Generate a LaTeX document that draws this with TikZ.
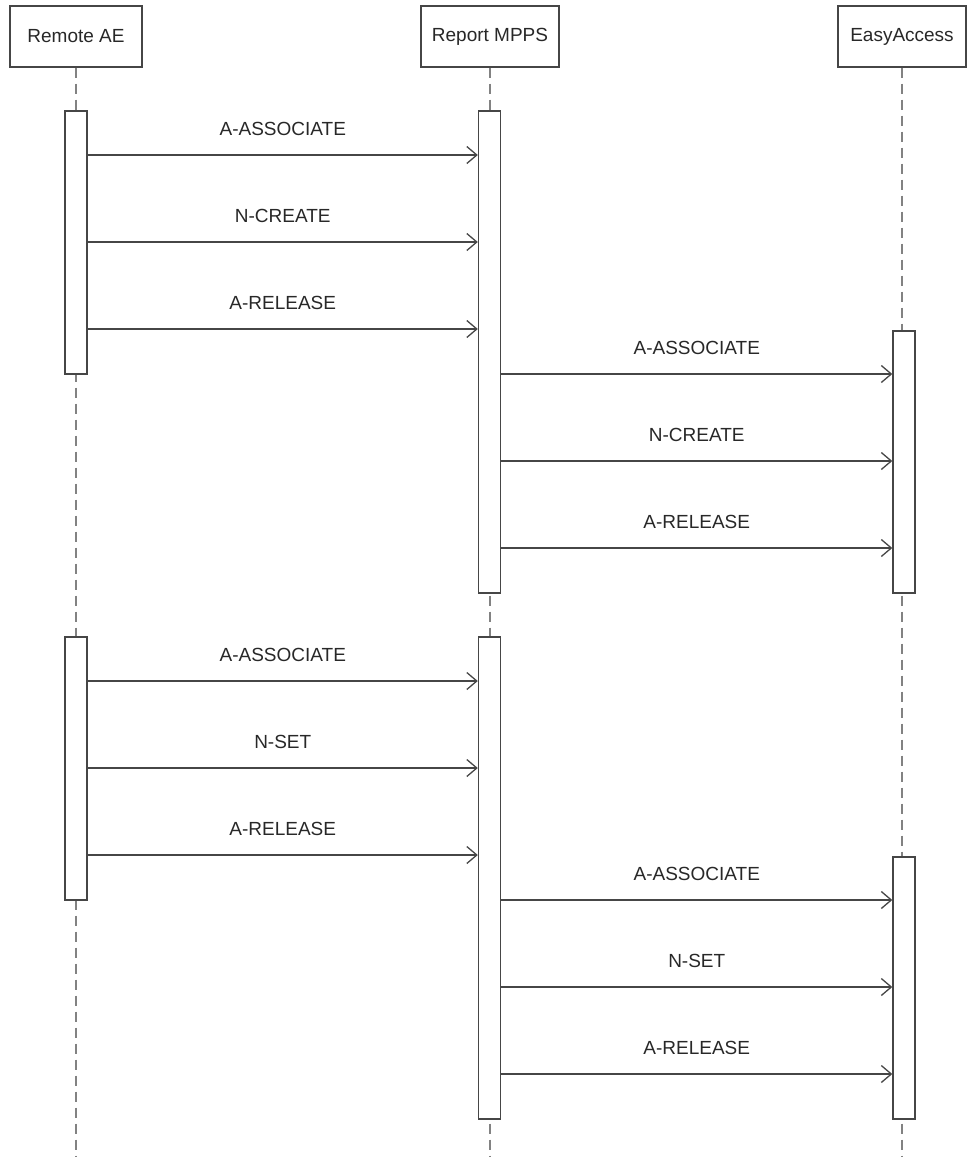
\documentclass[tikz,border=0pt]{standalone}
\usepackage{fontspec}
\setmainfont{Liberation Sans}
\usetikzlibrary{arrows.meta}
\definecolor{edgegray}{RGB}{70,70,70}
\definecolor{lifegray}{RGB}{130,130,130}
\definecolor{textgray}{RGB}{40,40,40}
\tikzset{
  head/.style={rectangle, draw=edgegray, line width=1.4pt, fill=white, text=textgray, font=\fontsize{19}{23}\selectfont, minimum height=61pt},
  actbar/.style={rectangle, draw=edgegray, line width=1.4pt, fill=white, minimum width=22pt, inner sep=0pt},
  life/.style={draw=lifegray, line width=1.6pt, dash pattern=on 10pt off 6pt},
  msg/.style={draw=edgegray, line width=1.3pt, -{Straight Barb[length=10pt, width=17pt, line width=1.3pt]}},
  lbl/.style={midway, above=19pt, inner sep=0pt, text=textgray, font=\fontsize{19}{23}\selectfont}
}
\begin{document}
\begin{tikzpicture}[x=1pt, y=-1pt]
  \useasboundingbox (0,0) rectangle (967,1157);

  % lifeline heads
  \node[head, minimum width=132pt] (remote) at (76,36.5) {Remote AE};
  \node[head, minimum width=138pt] (mpps) at (490,36.5) {Report MPPS};
  \node[head, minimum width=128pt] (easy) at (902,36.5) {EasyAccess};

  \draw[life] (remote) -- (remote |- 0,1157);
  \draw[life] (mpps) -- (mpps |- 0,1157);
  \draw[life] (easy) -- (easy |- 0,1157);

  % activations
  \node[actbar, minimum height=263pt] (ra1) at (76,242.5) {};
  \node[actbar, minimum height=482pt] (mp1) at (489.5,352) {};
  \node[actbar, minimum height=262pt] (ea1) at (904,462) {};
  \node[actbar, minimum height=263pt] (ra2) at (76,768.5) {};
  \node[actbar, minimum height=482pt] (mp2) at (489.5,878) {};
  \node[actbar, minimum height=262pt] (ea2) at (904,988) {};

  % first exchange
  \draw[msg] (ra1.east |- 0,155) -- node[lbl] {A-ASSOCIATE} (mp1.west |- 0,155);
  \draw[msg] (ra1.east |- 0,242) -- node[lbl] {N-CREATE} (mp1.west |- 0,242);
  \draw[msg] (ra1.east |- 0,329) -- node[lbl] {A-RELEASE} (mp1.west |- 0,329);
  \draw[msg] (mp1.east |- 0,374) -- node[lbl] {A-ASSOCIATE} (ea1.west |- 0,374);
  \draw[msg] (mp1.east |- 0,461) -- node[lbl] {N-CREATE} (ea1.west |- 0,461);
  \draw[msg] (mp1.east |- 0,548) -- node[lbl] {A-RELEASE} (ea1.west |- 0,548);

  % second exchange
  \draw[msg] (ra2.east |- 0,681) -- node[lbl] {A-ASSOCIATE} (mp2.west |- 0,681);
  \draw[msg] (ra2.east |- 0,768) -- node[lbl] {N-SET} (mp2.west |- 0,768);
  \draw[msg] (ra2.east |- 0,855) -- node[lbl] {A-RELEASE} (mp2.west |- 0,855);
  \draw[msg] (mp2.east |- 0,900) -- node[lbl] {A-ASSOCIATE} (ea2.west |- 0,900);
  \draw[msg] (mp2.east |- 0,987) -- node[lbl] {N-SET} (ea2.west |- 0,987);
  \draw[msg] (mp2.east |- 0,1074) -- node[lbl] {A-RELEASE} (ea2.west |- 0,1074);
\end{tikzpicture}
\end{document}
